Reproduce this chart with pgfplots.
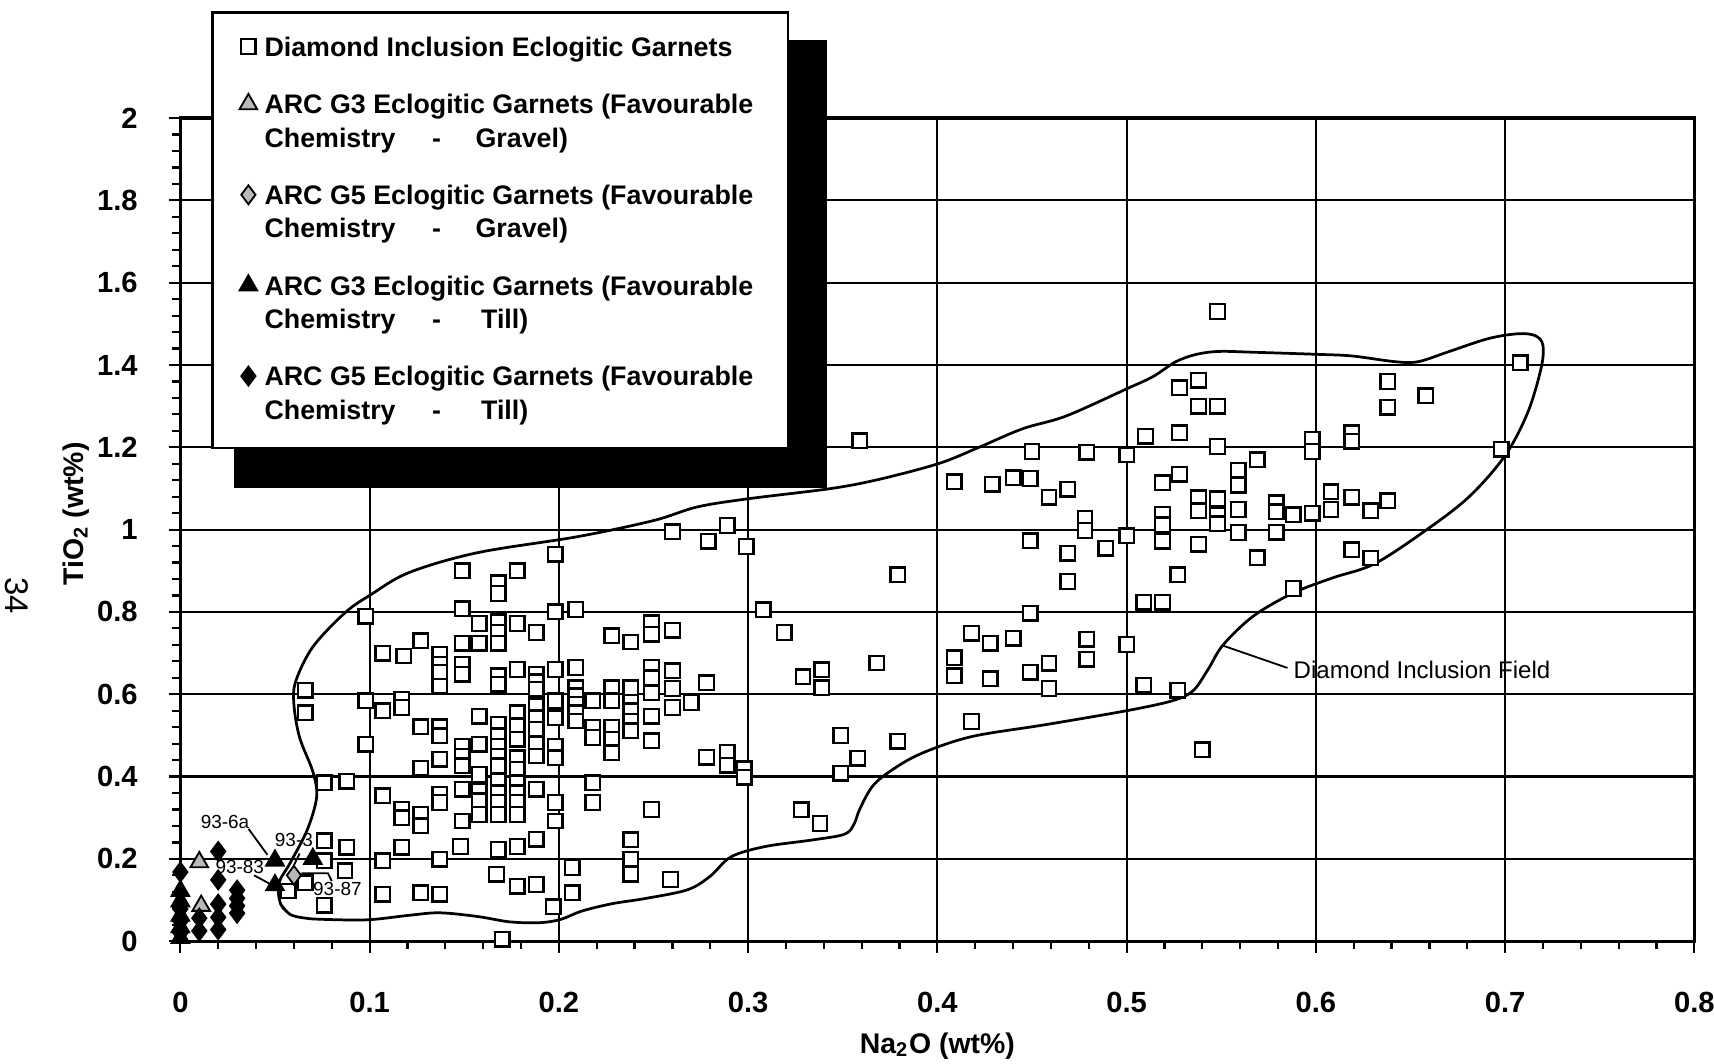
\documentclass[border=0pt]{standalone}
\usepackage{fontspec}
\setmainfont{Liberation Sans}
\usepackage{pgfplots}
\pgfplotsset{compat=1.18}
\usepackage{pgfplotstable}
\usetikzlibrary{shadows}

\pgfplotstableread{
x y
0.198 0.940
0.149 0.900
0.178 0.900
0.168 0.871
0.168 0.845
0.149 0.808
0.198 0.800
0.209 0.806
0.098 0.790
0.158 0.772
0.168 0.776
0.168 0.750
0.168 0.724
0.178 0.772
0.188 0.750
0.127 0.730
0.149 0.724
0.158 0.724
0.107 0.700
0.118 0.693
0.137 0.697
0.137 0.673
0.137 0.653
0.137 0.620
0.149 0.673
0.149 0.649
0.168 0.645
0.168 0.624
0.178 0.660
0.188 0.649
0.188 0.630
0.188 0.612
0.198 0.660
0.209 0.665
0.228 0.742
0.238 0.727
0.249 0.774
0.249 0.746
0.260 0.756
0.249 0.665
0.249 0.640
0.260 0.657
0.228 0.616
0.238 0.616
0.260 0.614
0.066 0.610
0.209 0.616
0.209 0.596
0.209 0.576
0.209 0.555
0.209 0.535
0.066 0.555
0.098 0.584
0.117 0.588
0.117 0.568
0.107 0.560
0.127 0.521
0.137 0.521
0.137 0.499
0.098 0.479
0.127 0.420
0.137 0.442
0.149 0.474
0.149 0.450
0.149 0.426
0.158 0.547
0.158 0.479
0.158 0.405
0.168 0.527
0.168 0.499
0.168 0.474
0.168 0.450
0.168 0.426
0.178 0.555
0.178 0.523
0.178 0.491
0.178 0.446
0.178 0.418
0.188 0.572
0.188 0.543
0.188 0.515
0.188 0.479
0.188 0.450
0.198 0.584
0.198 0.543
0.198 0.474
0.198 0.446
0.218 0.584
0.228 0.584
0.238 0.580
0.249 0.604
0.270 0.580
0.260 0.568
0.218 0.519
0.218 0.495
0.228 0.519
0.228 0.491
0.228 0.458
0.238 0.560
0.238 0.535
0.238 0.511
0.249 0.547
0.249 0.487
0.076 0.385
0.088 0.389
0.107 0.353
0.117 0.320
0.117 0.300
0.127 0.308
0.127 0.280
0.137 0.357
0.137 0.337
0.149 0.369
0.149 0.292
0.158 0.365
0.158 0.341
0.158 0.308
0.168 0.390
0.168 0.361
0.168 0.337
0.168 0.308
0.178 0.385
0.178 0.361
0.178 0.337
0.178 0.308
0.188 0.369
0.198 0.337
0.198 0.292
0.218 0.385
0.218 0.337
0.249 0.320
0.076 0.244
0.088 0.228
0.117 0.228
0.148 0.230
0.168 0.223
0.178 0.230
0.188 0.248
0.238 0.246
0.076 0.195
0.107 0.195
0.137 0.199
0.238 0.199
0.087 0.171
0.207 0.179
0.238 0.163
0.167 0.163
0.178 0.134
0.188 0.138
0.259 0.150
0.066 0.142
0.057 0.122
0.107 0.114
0.127 0.118
0.137 0.114
0.207 0.118
0.076 0.087
0.197 0.084
0.170 0.005
0.260 0.995
0.289 1.010
0.279 0.972
0.299 0.959
0.379 0.890
0.308 0.805
0.319 0.750
0.368 0.676
0.329 0.642
0.339 0.659
0.339 0.616
0.278 0.628
0.349 0.500
0.379 0.486
0.358 0.445
0.278 0.447
0.289 0.459
0.289 0.428
0.298 0.419
0.298 0.398
0.349 0.408
0.328 0.319
0.338 0.286
0.418 0.534
0.409 1.116
0.429 1.110
0.440 1.126
0.449 1.124
0.459 1.079
0.469 1.098
0.478 1.028
0.478 0.998
0.500 0.985
0.519 1.114
0.519 1.037
0.519 1.012
0.519 0.972
0.449 0.973
0.469 0.943
0.489 0.955
0.469 0.874
0.509 0.824
0.519 0.824
0.527 0.890
0.449 0.797
0.418 0.748
0.428 0.724
0.440 0.736
0.479 0.734
0.500 0.721
0.409 0.689
0.409 0.645
0.428 0.638
0.449 0.654
0.459 0.675
0.479 0.685
0.459 0.614
0.509 0.622
0.527 0.610
0.540 0.465
0.359 1.216
0.450 1.190
0.479 1.188
0.500 1.182
0.510 1.227
0.548 1.530
0.708 1.405
0.538 1.363
0.528 1.345
0.538 1.300
0.548 1.300
0.638 1.360
0.638 1.297
0.658 1.325
0.528 1.235
0.548 1.202
0.598 1.219
0.598 1.190
0.619 1.235
0.619 1.215
0.698 1.195
0.569 1.170
0.528 1.135
0.559 1.144
0.559 1.108
0.538 1.077
0.538 1.046
0.548 1.075
0.548 1.035
0.548 1.014
0.559 1.049
0.579 1.065
0.579 1.043
0.588 1.036
0.598 1.040
0.608 1.092
0.608 1.049
0.619 1.079
0.629 1.046
0.638 1.070
0.538 0.965
0.559 0.993
0.579 0.994
0.569 0.932
0.619 0.951
0.629 0.931
0.588 0.857
}\squares

\pgfplotstableread{
x y
0.010 0.192
0.011 0.086
}\gthreegravel

\pgfplotstableread{
x y
0.060 0.160
}\gfivegravel

\pgfplotstableread{
x y
0.050 0.196
0.050 0.136
0.070 0.200
0.000 0.122
0.000 0.097
0.000 0.062
0.000 0.034
0.000 0.008
}\gthreetill

\pgfplotstableread{
x y
0.000 0.168
0.000 0.078
0.000 0.048
0.000 0.020
0.010 0.056
0.010 0.025
0.020 0.218
0.020 0.149
0.020 0.090
0.020 0.058
0.020 0.028
0.030 0.124
0.030 0.104
0.030 0.086
0.030 0.068
}\gfivetill

\pgfplotstableread{
x y
0.053 0.090
0.058 0.065
0.066 0.056
0.076 0.053
0.099 0.052
0.121 0.063
0.137 0.069
0.157 0.060
0.174 0.047
0.190 0.045
0.201 0.053
0.212 0.073
0.228 0.091
0.246 0.104
0.268 0.125
0.280 0.158
0.291 0.205
0.309 0.230
0.334 0.246
0.351 0.260
0.356 0.285
0.359 0.321
0.366 0.378
0.377 0.419
0.392 0.457
0.418 0.497
0.457 0.526
0.500 0.560
0.524 0.584
0.535 0.608
0.543 0.660
0.551 0.720
0.567 0.790
0.588 0.846
0.609 0.883
0.631 0.917
0.658 0.998
0.681 1.080
0.700 1.180
0.712 1.285
0.719 1.392
0.720 1.448
0.716 1.471
0.707 1.476
0.691 1.464
0.670 1.432
0.654 1.408
0.642 1.408
0.619 1.422
0.600 1.426
0.567 1.431
0.549 1.433
0.537 1.426
0.526 1.408
0.514 1.372
0.500 1.342
0.468 1.276
0.445 1.245
0.422 1.200
0.401 1.161
0.370 1.123
0.344 1.100
0.300 1.075
0.273 1.055
0.250 1.022
0.210 0.983
0.157 0.944
0.121 0.896
0.101 0.843
0.087 0.798
0.070 0.715
0.061 0.632
0.060 0.575
0.063 0.495
0.070 0.412
0.072 0.350
0.067 0.270
0.058 0.190
0.052 0.140
0.053 0.090
0.058 0.065
}\contour

\begin{document}
\begin{tikzpicture}
\begin{axis}[
  name=ax,
  scale only axis, width=415.5pt, height=225.9pt,
  xmin=0, xmax=0.8, ymin=0, ymax=2,
  clip=false,
  xtick={0,0.1,0.2,0.3,0.4,0.5,0.6,0.7,0.8},
  xticklabels={0,0.1,0.2,0.3,0.4,0.5,0.6,0.7,0.8},
  ytick={0,0.2,0.4,0.6,0.8,1,1.2,1.4,1.6,1.8,2},
  yticklabels={0,0.2,0.4,0.6,0.8,1,1.2,1.4,1.6,1.8,2},
  minor x tick num=4, minor y tick num=4,
  tick pos=left, tick align=outside,
  major tick length=3.2pt, minor tick length=2.2pt,
  every tick/.style={black, line width=0.6pt},
  grid=major, major grid style={black, line width=0.6pt},
  axis line style={black, line width=0.9pt},
  ticklabel style={font=\bfseries\fontsize{8}{9}\selectfont},
  xticklabel style={yshift=-7.2pt},
  yticklabel style={xshift=-5pt},
  xlabel={Na\textsubscript{2}O (wt\%)},
  ylabel={TiO\textsubscript{2} (wt\%)},
  label style={font=\bfseries\fontsize{7.8}{9}\selectfont},
  xlabel style={at={(axis description cs:0.5,-0.127)}, anchor=center},
  ylabel style={at={(axis description cs:-0.0686,0.519)}, anchor=center},
  legend cell align=left,
  legend image code/.code={\draw[mark repeat=2,mark phase=2,#1] plot coordinates {(0pt,0pt) (3pt,0pt) (6pt,0pt)};},
  legend image post style={yshift=-5.0pt},
  legend style={
    at={(axis description cs:0.0202,1.130)}, anchor=north west,
    draw=black, line width=0.7pt, fill=white,
    inner xsep=7.5pt, inner ysep=4.4pt,
    row sep=4.6pt,
    font=\bfseries\fontsize{7.36}{9.1}\selectfont,
    cells={align=left, anchor=north west},
    drop shadow={shadow xshift=8pt, shadow yshift=-9pt, shadow scale=1.03, opacity=1, fill=black},
  },
]
\addplot[only marks, mark=square*, mark size=2pt, mark options={draw=black, fill=white, line width=0.65pt}] table {\squares};
\addlegendentry{Diamond Inclusion Eclogitic Garnets}
\addplot[only marks, mark=triangle*, mark size=2.8pt, mark options={draw=black, fill=gray!55, line width=0.5pt}] table {\gthreegravel};
\addlegendentry{ARC G3 Eclogitic Garnets (Favourable\\Chemistry\hspace{10pt}-\hspace{9.5pt}Gravel)}
\addplot[only marks, mark=diamond*, mark size=2.6pt, mark options={draw=black, fill=gray!55, line width=0.5pt}] table {\gfivegravel};
\addlegendentry{ARC G5 Eclogitic Garnets (Favourable\\Chemistry\hspace{10pt}-\hspace{9.5pt}Gravel)}
\addplot[only marks, mark=triangle*, mark size=2.8pt, mark options={draw=black, fill=black, line width=0.5pt}] table {\gthreetill};
\addlegendentry{ARC G3 Eclogitic Garnets (Favourable\\Chemistry\hspace{10pt}-\hspace{11pt}Till)}
\addplot[only marks, mark=diamond*, mark size=2.6pt, mark options={draw=black, fill=black, line width=0.5pt}] table {\gfivetill};
\addlegendentry{ARC G5 Eclogitic Garnets (Favourable\\Chemistry\hspace{10pt}-\hspace{11pt}Till)}

\addplot[forget plot, black, line width=0.75pt, smooth, tension=0.55, no marks] table {\contour};

\addplot[forget plot, black, line width=0.5pt, no marks] coordinates {(0.036,0.273) (0.046,0.210)};
\addplot[forget plot, black, line width=0.5pt, no marks] coordinates {(0.063,0.213) (0.059,0.175)};
\addplot[forget plot, black, line width=0.5pt, no marks] coordinates {(0.039,0.160) (0.047,0.140)};
\addplot[forget plot, black, line width=0.5pt, no marks] coordinates {(0.064,0.165) (0.078,0.165) (0.080,0.146)};
\addplot[forget plot, black, line width=0.5pt, no marks] coordinates {(0.551,0.718) (0.585,0.664)};

\node[font=\fontsize{5.2}{6}\selectfont] at (axis cs:0.0236,0.290) {93-6a};
\node[font=\fontsize{5.2}{6}\selectfont] at (axis cs:0.0600,0.245) {93-3};
\node[font=\fontsize{5.2}{6}\selectfont] at (axis cs:0.0314,0.180) {93-83};
\node[font=\fontsize{5.2}{6}\selectfont] at (axis cs:0.0830,0.127) {93-87};
\node[anchor=west, font=\fontsize{6.6}{8}\selectfont, inner sep=1pt] at (axis cs:0.586,0.660) {Diamond Inclusion Field};
\node[rotate=-90, font=\fontsize{9}{10}\selectfont] at (axis description cs:-0.108,0.42) {34};
\end{axis}
\pgfresetboundingbox
\path[use as bounding box] ([xshift=-49.5pt,yshift=-33.6pt]ax.south west) rectangle ([xshift=5.4pt,yshift=32.4pt]ax.north east);
\end{tikzpicture}
\end{document}
